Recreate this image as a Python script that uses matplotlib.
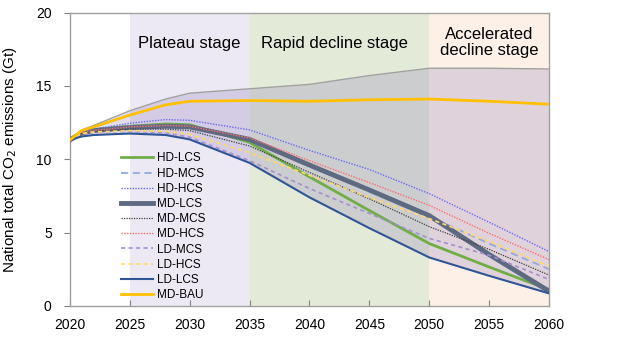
import matplotlib.pyplot as plt

plt.rcParams['font.family'] = ['Liberation Sans', 'DejaVu Sans']

# Datos (Gt CO2)
years = [2020, 2021, 2022, 2025, 2028, 2030, 2035, 2040, 2045, 2050, 2055, 2060]

hd_lcs = [11.3, 11.85, 12.0, 12.25, 12.4, 12.35, 11.15, 8.8, 6.5, 4.25, 2.65, 1.1]
hd_mcs = [11.3, 11.85, 12.0, 12.25, 12.35, 12.3, 11.4, 9.6, 7.85, 6.1, 4.25, 2.5]
hd_hcs = [11.3, 11.9, 12.05, 12.45, 12.7, 12.65, 12.0, 10.6, 9.3, 7.65, 5.7, 3.7]
md_lcs = [11.3, 11.8, 11.95, 12.15, 12.25, 12.2, 11.35, 9.6, 7.9, 6.15, 3.5, 1.0]
md_mcs = [11.3, 11.8, 11.9, 12.05, 12.05, 11.95, 10.9, 9.1, 7.3, 5.4, 3.85, 2.1]
md_hcs = [11.3, 11.8, 11.95, 12.2, 12.3, 12.25, 11.45, 9.9, 8.4, 6.85, 4.95, 3.15]
ld_mcs = [11.3, 11.75, 11.85, 11.9, 11.8, 11.5, 9.9, 8.0, 6.3, 4.6, 3.45, 1.8]
ld_hcs = [11.3, 11.75, 11.85, 11.95, 11.9, 11.7, 10.45, 8.9, 7.4, 5.95, 4.4, 2.7]
ld_lcs = [11.3, 11.55, 11.65, 11.75, 11.65, 11.35, 9.75, 7.4, 5.3, 3.3, 2.05, 0.85]
md_bau = [11.3, 11.95, 12.2, 13.0, 13.7, 13.95, 14.0, 13.95, 14.05, 14.1, 13.95, 13.75]
upper = [11.3, 12.0, 12.3, 13.3, 14.1, 14.5, 14.8, 15.1, 15.7, 16.2, 16.2, 16.15]

stages = [(2025, 2035, '#EDE9F4'), (2035, 2050, '#E4EAD8'), (2050, 2060, '#FDF1E7')]

series = [
    ('HD-LCS', hd_lcs, dict(color='#70AD47', lw=2.0, ls='-')),
    ('HD-MCS', hd_mcs, dict(color='#8FAADC', lw=1.3, ls=(0, (4, 2.5)))),
    ('HD-HCS', hd_hcs, dict(color='#6A6AF0', lw=1.0, ls=(0, (1, 1)))),
    ('MD-LCS', md_lcs, dict(color='#5E6A82', lw=3.5, ls='-')),
    ('MD-MCS', md_mcs, dict(color='#404040', lw=0.9, ls=(0, (1, 1)))),
    ('MD-HCS', md_hcs, dict(color='#FF6B6B', lw=1.0, ls=(0, (1, 1)))),
    ('LD-MCS', ld_mcs, dict(color='#A58FCF', lw=1.2, ls=(0, (2.5, 2)))),
    ('LD-HCS', ld_hcs, dict(color='#FFD966', lw=1.2, ls=(0, (2.5, 2)))),
    ('LD-LCS', ld_lcs, dict(color='#2F5597', lw=1.5, ls='-')),
    ('MD-BAU', md_bau, dict(color='#FFC000', lw=2.0, ls='-')),
]

fig = plt.figure(figsize=(6.4, 3.38), dpi=100)
ax = fig.add_axes([0.109, 0.095, 0.749, 0.868])

for x0, x1, c in stages:
    ax.axvspan(x0, x1, color=c, lw=0, zorder=0)

ax.fill_between(years, ld_lcs, upper, color='#8878B8', alpha=0.25, lw=0, zorder=1)
ax.plot(years, upper, color='#A0A0A0', lw=1.0, zorder=2)

for name, vals, st in series:
    ax.plot(years, vals, label=name, zorder=3, **st)

ax.text(2030, 17.9, 'Plateau stage', ha='center', va='center', fontsize=12)
ax.text(2042.1, 17.9, 'Rapid decline stage', ha='center', va='center', fontsize=12)
ax.text(2055, 17.95, 'Accelerated\ndecline stage', ha='center', va='center',
        fontsize=12, linespacing=1.05)

ax.set_xlim(2020, 2060)
ax.set_ylim(0, 20)
ax.set_xticks(range(2020, 2061, 5))
ax.set_yticks([0, 5, 10, 15, 20])
ax.tick_params(axis='x', direction='in', length=4, labelsize=10, color='#808080', pad=9)
ax.tick_params(axis='y', direction='out', length=4, labelsize=10, color='#808080', pad=9)
for s in ax.spines.values():
    s.set_color('#A0A0A0')
    s.set_linewidth(1.0)

ax.set_ylabel('National total CO$_2$ emissions (Gt)', fontsize=11, labelpad=12)

ax.legend(loc='lower left', bbox_to_anchor=(0.085, -0.02), frameon=False,
          fontsize=8.5, handlelength=2.7, labelspacing=0.27, handletextpad=0.3)

fig.savefig('out.png', dpi=100)
